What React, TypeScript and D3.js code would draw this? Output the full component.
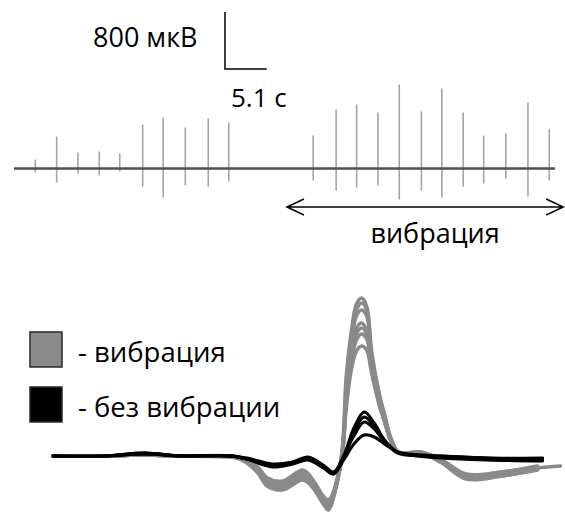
import React, { useRef, useEffect } from 'react';
import * as d3 from 'd3';

// top recording: spike times (s) and amplitudes above / below baseline (µV)
const spikeTimes = [2.6, 5.2, 7.8, 10.4, 12.9, 15.7, 18.2, 20.9, 23.7, 26.2, 36.5, 39.3, 41.8, 44.4, 47.0, 49.7, 52.2, 54.8, 57.3, 60.0, 62.7, 65.3];
const spikeUp = [126, 449, 225, 239, 211, 618, 716, 576, 702, 646, 463, 828, 899, 786, 1179, 800, 1123, 786, 463, 491, 927, 548];
const spikeDown = [56, 197, 70, 98, 42, 253, 407, 239, 253, 183, 168, 309, 267, 239, 435, 309, 407, 253, 211, 140, 393, 168];
const recordLength = 66;
const vibrationRange = [33.3, 67];

// averaged waveforms, vibration (grey)
const timeGrey = [0, 10, 18, 25, 35, 37, 40, 42, 45, 49, 51, 53, 54, 56.5, 57.5, 58.5, 59.5, 60.5, 61.5, 62.5, 64, 65, 66, 67.5, 69, 72, 76, 81, 88, 95, 99.5];
const greyTraces = [
  [0, 0, 1, 0, 0, -2, -12, -26, -32, -22, -32, -48, -54, -2, 80, 125, 152, 158, 150, 104, 62, 42, 22, 5, 2, 4, -5, -21, -18, -12, -10],
  [0, 0, 1, 0, -1, -3, -14, -28, -30, -20, -30, -46, -52, -4, 72, 120, 146, 153, 146, 100, 60, 40, 20, 4, 1, 3, -6, -23, -20, -14],
  [0, 0, 1, 0, 0, -2, -10, -22, -26, -16, -26, -42, -48, -6, 60, 104, 128, 133, 126, 94, 56, 38, 19, 4, 2, 4, -4, -20, -18, -11],
  [0, 0, 1, 0, -1, -4, -16, -30, -34, -24, -32, -46, -50, -8, 56, 98, 122, 128, 122, 92, 58, 40, 21, 5, 3, 4, -6, -22, -19, -13],
  [0, 0, 1, 0, 0, -3, -13, -24, -28, -18, -28, -44, -46, -6, 52, 94, 116, 122, 117, 88, 52, 35, 18, 4, 2, 3, -5, -19, -16, -10],
  [0, 0, 1, 0, 0, -2, -11, -22, -25, -14, -24, -40, -44, -4, 48, 86, 105, 110, 106, 82, 50, 34, 18, 4, 3, 4, -3, -18, -16, -11],
  [0, 0, 1, 0, -1, -3, -15, -27, -31, -21, -31, -47, -51, -3, 66, 112, 140, 146, 140, 98, 58, 40, 20, 4, 2, 3, -6, -22, -20, -13],
];

// averaged waveforms, no vibration (black)
const timeBlack = [0, 10, 18, 25, 35, 38, 43, 47, 50, 53, 55, 57, 59, 61, 63, 65, 67.5, 70, 76, 85, 96];
const blackTraces = [
  [0, 0, 3, 0, 0, -3, -10, -7, -2, -10, -17, 0, 28, 44, 33, 16, 4, 1, 0, -2, -3],
  [0, 0, 3, 0, 0, -3, -9, -7, -3, -11, -18, -2, 24, 39, 30, 15, 3, 1, -1, -3, -4],
  [0, 0, 2, 0, 0, -2, -8, -6, -1, -9, -16, 0, 20, 34, 27, 14, 4, 2, 0, -2, -2],
  [0, 0, 2, 0, 0, -3, -11, -8, -4, -12, -18, -4, 12, 21, 19, 12, 4, 1, -2, -4, -5],
];

const legendLabels = ['- вибрация', '- без вибрации'];
const legendColors = ['#8a8a8a', '#000000'];

const font = '"Open Sans", sans-serif';

const App = () => {
  const svgRef = useRef(null);

  useEffect(() => {
    const width = 565;
    const height = 516;
    const svg = d3.select(svgRef.current);
    svg.selectAll('*').remove();
    svg.attr('width', width).attr('height', height);

    // scales for the top recording
    const x = d3.scaleLinear().domain([0, recordLength]).range([14, 555]);
    const y = d3.scaleLinear().domain([0, 800]).range([168.5, 111.5]);

    // spikes
    svg.append('g')
      .selectAll('line')
      .data(spikeTimes)
      .enter().append('line')
      .attr('x1', d => x(d))
      .attr('x2', d => x(d))
      .attr('y1', (d, i) => y(spikeUp[i]))
      .attr('y2', (d, i) => y(-spikeDown[i]))
      .attr('stroke', '#a4a4a4')
      .attr('stroke-width', 1.6);

    // baseline of recording
    svg.append('line')
      .attr('x1', x(0)).attr('x2', x(recordLength))
      .attr('y1', y(0)).attr('y2', y(0))
      .attr('stroke', '#505050')
      .attr('stroke-width', 2.6);

    // scale bar
    const sbX = 225;
    const sbY = 69;
    const barW = x(5.1) - x(0);
    const barH = y(0) - y(800);
    svg.append('path')
      .attr('d', `M${sbX},${sbY - barH}V${sbY}H${sbX + barW}`)
      .attr('fill', 'none')
      .attr('stroke', '#000')
      .attr('stroke-width', 1.5);
    svg.append('text')
      .attr('x', 93).attr('y', 47)
      .attr('font-family', font).attr('font-size', 27)
      .text('800 мкВ');
    svg.append('text')
      .attr('x', 231).attr('y', 107)
      .attr('font-family', font).attr('font-size', 26)
      .text('5.1 с');

    // vibration arrow
    const ay = 207;
    const ax1 = x(vibrationRange[0]);
    const ax2 = x(vibrationRange[1]);
    svg.append('path')
      .attr('d', `M${ax1},${ay}H${ax2}M${ax1 + 17},${ay - 8}L${ax1},${ay}L${ax1 + 17},${ay + 8}M${ax2 - 17},${ay - 8}L${ax2},${ay}L${ax2 - 17},${ay + 8}`)
      .attr('fill', 'none')
      .attr('stroke', '#000')
      .attr('stroke-width', 1.5);
    svg.append('text')
      .attr('x', (ax1 + ax2) / 2 + 10).attr('y', 243)
      .attr('text-anchor', 'middle')
      .attr('font-family', font).attr('font-size', 27)
      .text('вибрация');

    // waveforms
    const xw = d3.scaleLinear().domain([0, 100]).range([53, 563]);
    const yw = d3.scaleLinear().domain([0, 100]).range([456, 356]);

    const greyLine = d3.line()
      .x((d, i) => xw(timeGrey[i]))
      .y(d => yw(d))
      .curve(d3.curveCatmullRom.alpha(0.5));
    const blackLine = d3.line()
      .x((d, i) => xw(timeBlack[i]))
      .y(d => yw(d))
      .curve(d3.curveCatmullRom.alpha(0.5));

    svg.append('g')
      .selectAll('path')
      .data(greyTraces)
      .enter().append('path')
      .attr('d', d => greyLine(d))
      .attr('fill', 'none')
      .attr('stroke', legendColors[0])
      .attr('stroke-width', 3.5)
      .attr('stroke-linejoin', 'round')
      .attr('stroke-linecap', 'round');

    svg.append('g')
      .selectAll('path')
      .data(blackTraces)
      .enter().append('path')
      .attr('d', d => blackLine(d))
      .attr('fill', 'none')
      .attr('stroke', legendColors[1])
      .attr('stroke-width', 3)
      .attr('stroke-linejoin', 'round')
      .attr('stroke-linecap', 'round');

    // legend
    const legend = svg.append('g').attr('transform', 'translate(30,332)');
    legend.selectAll('rect')
      .data(legendLabels)
      .enter().append('rect')
      .attr('x', 0)
      .attr('y', (d, i) => i * 55)
      .attr('width', 32)
      .attr('height', 35)
      .attr('fill', (d, i) => legendColors[i])
      .attr('stroke', '#2a2a2a')
      .attr('stroke-width', 1.5);
    legend.selectAll('text')
      .data(legendLabels)
      .enter().append('text')
      .attr('x', 48)
      .attr('y', (d, i) => 30 + i * 55)
      .attr('font-family', font)
      .attr('font-size', 27.5)
      .text(d => d);
  }, []);

  return (
    <svg ref={svgRef} style={{ position: 'absolute', left: 0, top: 0 }}></svg>
  );
};

export default App;
